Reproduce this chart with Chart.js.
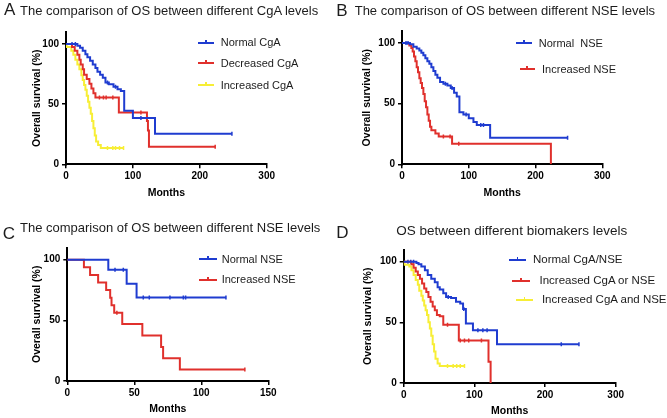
<!DOCTYPE html>
<html><head><meta charset="utf-8">
<script src="https://cdn.jsdelivr.net/npm/chart.js@4.4.1/dist/chart.umd.min.js"></script>
<style>
html,body{margin:0;padding:0;background:#fff;}
#wrap{position:relative;width:667px;height:418px;overflow:hidden;background:#fff;font-family:"Liberation Sans",Arial,Helvetica,sans-serif;}
canvas{position:absolute;}
.t{position:absolute;white-space:pre;line-height:1;color:#1c1c1c;}
.lg{position:absolute;height:2px;}
.tk{position:absolute;width:1.5px;height:4px;}
</style></head><body><div id="wrap"></div>
<script>
// ---------- DATA ----------
const yTicks = [0, 50, 100];
const xTicksWide = [0, 100, 200, 300];
const xTicksC = [0, 50, 100, 150];
const xTitle = 'Months';
const yTitle = 'Overall survival (%)';

const panelLetters = ['A', 'B', 'C', 'D'];
const panelTitles = [
  'The comparison of OS between different CgA levels',
  'The comparison of OS between different NSE levels',
  'The comparison of OS between different NSE levels',
  'OS between different biomakers levels'
];

// Panel A
const aLabels = ['Normal CgA', 'Decreased CgA', 'Increased CgA'];
const aNormalT = [0, 17, 21, 25, 29, 32, 36, 40, 44, 47, 51, 55, 59, 64, 71, 77, 82, 87, 100, 133, 248];
const aNormalS = [100, 98.6, 97, 94.5, 91.5, 89, 86, 83, 80, 77, 74.5, 72, 68, 66.5, 64.5, 62.5, 61, 44.5, 38.5, 25.5, 25.5];
const aNormalC = [9, 14, 62, 74, 112, 121, 248];
const aDecT = [0, 9, 13, 17, 20, 22, 25, 27, 31, 35, 38, 41, 44, 79, 121, 122.5, 124, 223];
const aDecS = [100, 97.5, 94.5, 91, 87, 83, 79, 74.5, 71, 67, 63, 59, 55.5, 43, 36, 28, 14.5, 14.5];
const aDecC = [50, 56, 60, 70, 112, 223];
const aIncT = [0, 1, 8, 11, 14, 17, 20, 23, 25, 27, 29, 31, 33, 35, 37, 39, 41, 43, 45, 48, 52, 86];
const aIncS = [100, 97.5, 94.5, 91, 87, 83, 79, 74, 70, 66, 62, 57, 52, 47, 42, 36, 30, 24, 19, 16, 13.5, 13.5];
const aIncC = [62, 70, 74, 80, 86];

// Panel B
const bLabels = ['Normal  NSE', ' Increased NSE'];
const bNormalT = [0, 12, 17, 22, 26, 29, 32, 35, 38, 41, 44, 47, 50, 53, 57, 62, 68, 73, 78, 82, 86, 92, 100, 107, 112, 132, 248];
const bNormalS = [100, 99, 97, 95.5, 94, 92, 90, 87.5, 85, 83, 80, 77, 74, 71.5, 68, 66.5, 65, 63, 59, 56, 43, 41, 38, 35, 32.5, 22, 22];
const bNormalC = [6, 9, 65, 75, 96, 118, 122, 248];
const bIncT = [0, 11, 14, 16, 18, 20, 22, 24, 26, 28, 30, 32, 34, 36, 38, 40, 42, 44, 50, 55, 75, 223];
const bIncS = [100, 98, 96, 93, 89, 85, 80, 76, 71, 67, 63, 58, 52, 47, 41, 36, 31, 28, 25.5, 23, 17, 0];
const bIncC = [62, 72, 85];

// Panel C
const cLabels = ['Normal NSE', 'Increased NSE'];
const cNormalT = [0, 30.6, 44.3, 51.7, 118.4];
const cNormalS = [100, 91.7, 80.2, 68.8, 68.8];
const cNormalC = [35.6, 41.8, 56.7, 61.2, 76.6, 86.6, 88.3, 118.4];
const cIncT = [0, 12.4, 17, 23, 29, 32, 33, 35, 41, 56, 70, 71.5, 84, 132.5];
const cIncS = [100, 93.75, 87.5, 81.25, 75, 68.75, 62.5, 56.25, 46.9, 37.5, 28.1, 18.75, 9.4, 9.4];
const cIncC = [37, 132.5];

// Panel D
const dLabels = ['Normal CgA/NSE', ' Increased CgA or NSE', ' Increased CgA and NSE'];
const dNormalT = [0, 18, 21, 25, 30, 34, 39, 44, 48, 51, 56, 60, 67, 74, 80, 84, 88, 98, 132, 248];
const dNormalS = [100, 99, 98, 96, 93, 89, 86, 83, 79, 77, 74, 71, 70, 67, 65.5, 61, 49, 43.5, 32, 32];
const dNormalC = [6, 10, 14, 63, 85, 105, 112, 118, 223, 248];
const dOrT = [0, 11, 14, 17, 20, 23, 26, 29, 32, 35, 38, 41, 44, 47, 51, 56, 78, 120, 123];
const dOrS = [100, 98, 95, 92, 89, 86, 82, 78, 75, 71, 67, 63, 60, 56, 55, 48, 35, 17.5, 0];
const dOrC = [62, 80, 86, 92, 110];
const dAndT = [0, 1, 8, 11, 14, 17, 20, 22, 25, 27, 29, 31, 33, 35, 37, 39, 41, 43, 45, 48, 51, 86];
const dAndS = [100, 97.5, 96, 93, 89, 85, 81, 76, 72, 68, 64, 60, 56, 50, 45, 39, 32, 26, 20, 16, 14, 14];
const dAndC = [62, 70, 75, 80, 86];

// ---------- STYLE / LAYOUT ----------
const BLUE = '#1f3cd0', RED = '#e0302c', YELLOW = '#f7ee36';
const FONT = '"Liberation Sans", Arial, Helvetica, sans-serif';
const wrap = document.getElementById('wrap');

const panels = [
  { left: 0, top: 0, w: 333, h: 209, area: { l: 66, r: 266.7, t: 32, b: 164.3 }, yTitleX: 37, xTitleY: 192.7, xTicks: xTicksWide, xMax: 300,
    letter: { x: 4, base: 15, fs: 17 }, title: { x: 20, base: 15, fs: 13 },
    series: [
      { label: aLabels[0], t: aNormalT, s: aNormalS, c: aNormalC, color: BLUE },
      { label: aLabels[1], t: aDecT, s: aDecS, c: aDecC, color: RED },
      { label: aLabels[2], t: aIncT, s: aIncS, c: aIncC, color: YELLOW }],
    legend: { fs: 11, rows: [{ y: 42.7, x1: 198.3, x2: 214, tx: 220.7 }, { y: 63.3, x1: 198.3, x2: 214, tx: 220.7 }, { y: 85.3, x1: 198.3, x2: 214, tx: 220.7 }] } },
  { left: 333, top: 0, w: 334, h: 209, area: { l: 69, r: 269.3, t: 31, b: 164.3 }, yTitleX: 34.5, xTitleY: 192.7, xTicks: xTicksWide, xMax: 300,
    letter: { x: 3.3, base: 16, fs: 17 }, title: { x: 21.7, base: 15, fs: 13 },
    series: [
      { label: bLabels[0], t: bNormalT, s: bNormalS, c: bNormalC, color: BLUE },
      { label: bLabels[1], t: bIncT, s: bIncS, c: bIncC, color: RED }],
    legend: { fs: 11, rows: [{ y: 43.3, x1: 182.7, x2: 199, tx: 205.7 }, { y: 69.3, x1: 186.7, x2: 201.7, tx: 206 }] } },
  { left: 0, top: 209, w: 333, h: 209, area: { l: 67.3, r: 268.3, t: 38.6, b: 172 }, yTitleX: 36.7, xTitleY: 200, xTicks: xTicksC, xMax: 150,
    letter: { x: 2.7, base: 30, fs: 17 }, title: { x: 20, base: 22.7, fs: 13 },
    series: [
      { label: cLabels[0], t: cNormalT, s: cNormalS, c: cNormalC, color: BLUE },
      { label: cLabels[1], t: cIncT, s: cIncS, c: cIncC, color: RED }],
    legend: { fs: 11, rows: [{ y: 50, x1: 199.3, x2: 216.7, tx: 221.7 }, { y: 70.7, x1: 199.3, x2: 216.7, tx: 221.7 }] } },
  { left: 333, top: 209, w: 334, h: 209, area: { l: 70.7, r: 282.7, t: 40.6, b: 174 }, yTitleX: 34.7, xTitleY: 201.7, xTicks: xTicksWide, xMax: 300,
    letter: { x: 3.3, base: 29.3, fs: 17 }, title: { x: 63.3, base: 26, fs: 13.5 },
    series: [
      { label: dLabels[0], t: dNormalT, s: dNormalS, c: dNormalC, color: BLUE },
      { label: dLabels[1], t: dOrT, s: dOrS, c: dOrC, color: RED },
      { label: dLabels[2], t: dAndT, s: dAndS, c: dAndC, color: YELLOW }],
    legend: { fs: 11.5, rows: [{ y: 50.7, x1: 176, x2: 193.3, tx: 200 }, { y: 71.7, x1: 179, x2: 196.7, tx: 203.3 }, { y: 90.7, x1: 182.7, x2: 200, tx: 205.7 }] } }
];

function survAt(T, S, t) {
  let s = S[0];
  for (let i = 0; i < T.length; i++) if (T[i] <= t && S[i] > 0) s = S[i];
  return s;
}

function addText(txt, x, y, fs) {
  const d = document.createElement('div');
  d.className = 't';
  d.textContent = txt;
  d.style.left = x + 'px';
  d.style.top = y + 'px';
  d.style.fontSize = fs + 'px';
  wrap.appendChild(d);
}

panels.forEach((p, idx) => {
  const cv = document.createElement('canvas');
  cv.width = p.w; cv.height = p.h;
  cv.style.left = p.left + 'px'; cv.style.top = p.top + 'px';
  wrap.appendChild(cv);

  const datasets = [];
  p.series.forEach(s => {
    datasets.push({
      data: s.t.map((t, i) => ({ x: t, y: s.s[i] })),
      borderColor: s.color, backgroundColor: s.color, borderWidth: 2,
      stepped: true, pointRadius: 0, fill: false, tension: 0
    });
  });
  p.series.forEach(s => {
    datasets.push({
      data: s.c.map(t => ({ x: t, y: survAt(s.t, s.s, t) })),
      showLine: false, pointStyle: 'line', rotation: 90, pointRadius: 2,
      pointBorderWidth: 1.5, borderColor: s.color, backgroundColor: s.color
    });
  });

  const tickFont = { family: FONT, size: 10, weight: 'bold' };
  const titleFont = { family: FONT, size: 10.5, weight: 'bold' };
  const halfLH = 10.5 * 1.2 / 2;

  new Chart(cv, {
    type: 'line',
    data: { datasets },
    options: {
      responsive: false, animation: false, devicePixelRatio: 1,
      layout: { padding: { left: 0, right: p.w - p.area.r, top: p.area.t, bottom: 0 } },
      plugins: { legend: { display: false }, tooltip: { enabled: false }, title: { display: false } },
      scales: {
        x: {
          type: 'linear', min: 0, max: p.xMax,
          afterBuildTicks: sc => { sc.ticks = p.xTicks.map(v => ({ value: v })); },
          afterFit: sc => { sc.height = p.h - p.area.b; },
          grid: { display: true, drawOnChartArea: false, drawTicks: true, tickLength: 4, color: '#000', lineWidth: 1.5 },
          border: { display: true, color: '#000', width: 2 },
          ticks: { color: '#000', font: tickFont, padding: 2, maxRotation: 0, autoSkip: false },
          title: { display: true, text: xTitle, color: '#000', font: titleFont, padding: { top: 0, bottom: p.h - p.xTitleY - halfLH } }
        },
        y: {
          type: 'linear', min: 0, max: 110,
          afterBuildTicks: sc => { sc.ticks = yTicks.map(v => ({ value: v })); },
          afterFit: sc => { sc.width = p.area.l; },
          grid: { display: true, drawOnChartArea: false, drawTicks: true, tickLength: 4, color: '#000', lineWidth: 1.5 },
          border: { display: true, color: '#000', width: 2 },
          ticks: { color: '#000', font: tickFont, padding: 3, autoSkip: false },
          title: { display: true, text: yTitle, color: '#000', font: titleFont, padding: { top: p.yTitleX - halfLH, bottom: 0 } }
        }
      }
    }
  });

  addText(panelLetters[idx], p.left + p.letter.x, p.top + p.letter.base - 0.8465 * p.letter.fs, p.letter.fs);
  addText(panelTitles[idx], p.left + p.title.x, p.top + p.title.base - 0.8465 * p.title.fs, p.title.fs);

  p.series.forEach((s, i) => {
    const r = p.legend.rows[i];
    const ln = document.createElement('div');
    ln.className = 'lg';
    ln.style.left = (p.left + r.x1) + 'px';
    ln.style.top = (p.top + r.y - 1) + 'px';
    ln.style.width = (r.x2 - r.x1) + 'px';
    ln.style.background = s.color;
    wrap.appendChild(ln);
    const tk = document.createElement('div');
    tk.className = 'tk';
    tk.style.left = (p.left + (r.x1 + r.x2) / 2 - 0.75) + 'px';
    tk.style.top = (p.top + r.y - 3) + 'px';
    tk.style.background = s.color;
    wrap.appendChild(tk);
    addText(s.label, p.left + r.tx, p.top + r.y - 0.488 * p.legend.fs, p.legend.fs);
  });
});
</script>
</body></html>
